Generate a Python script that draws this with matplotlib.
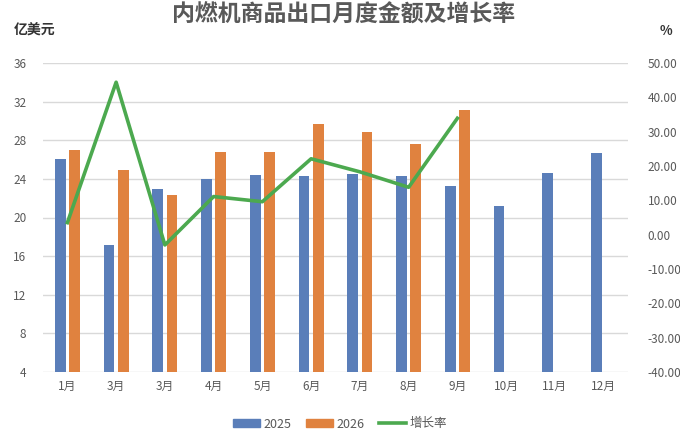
import numpy as np
import matplotlib
matplotlib.use("Agg")
import matplotlib.pyplot as plt
from matplotlib.patches import Patch
from matplotlib.lines import Line2D

plt.rcParams['font.family'] = ['Noto Sans CJK SC', 'DejaVu Sans']

# Data
months = ["1月", "3月", "3月", "4月", "5月", "6月", "7月", "8月", "9月", "10月", "11月", "12月"]
val_2025 = [26.1, 17.2, 23.0, 24.0, 24.4, 24.3, 24.5, 24.3, 23.3, 21.2, 24.6, 26.7]
val_2026 = [27.0, 24.9, 22.3, 26.8, 26.8, 29.7, 28.9, 27.6, 31.1]
growth = [3.5, 44.4, -3.0, 11.1, 9.6, 22.1, 18.3, 13.8, 33.9]

blue = "#5A7EB9"
orange = "#E0823F"
green = "#4CA94F"
text_c = "#595959"

fig = plt.figure(figsize=(6.8, 4.34), dpi=100)
ax = fig.add_axes([43 / 680, 1 - 372 / 434, 585 / 680, 309 / 434])
ax2 = ax.twinx()

x = np.arange(len(months))
off = 0.148
w = 0.22
ax.bar(x - off, val_2025, width=w, color=blue, zorder=3)
ax.bar(x[:len(val_2026)] + off, val_2026, width=w, color=orange, zorder=3)
ax2.plot(x[:len(growth)], growth, color=green, lw=2.6, zorder=4)

ax.set_ylim(4, 36)
ax.set_yticks(range(4, 37, 4))
ax.set_xlim(-0.5, len(months) - 0.5)
ax.set_xticks(x)
ax.set_xticklabels(months)
ax2.set_ylim(-40, 50)
ax2.set_yticks(range(-40, 51, 10))
ax2.set_yticklabels([f"{v:.2f}" for v in range(-40, 51, 10)])

ax.grid(axis="y", color="#D9D9D9", lw=1, zorder=0)
ax.set_axisbelow(True)
for a in (ax, ax2):
    for s in a.spines.values():
        s.set_visible(False)
    a.tick_params(length=0, colors=text_c, labelsize=8.5)
ax.tick_params(axis="y", pad=12)
ax.tick_params(axis="x", pad=6)
ax2.tick_params(axis="y", pad=14)

fig.text(0.505, 1 - 15 / 434, "内燃机商品出口月度金额及增长率", ha="center", va="center",
         fontsize=16.5, color=text_c, fontweight="bold")
fig.text(14 / 680, 1 - 31 / 434, "亿美元", ha="left", va="center", fontsize=10,
         color="#333333", fontweight="bold")
fig.text(666 / 680, 1 - 31 / 434, "%", ha="center", va="center", fontsize=9.5,
         color="#333333", fontweight="bold")

handles = [Patch(color=blue), Patch(color=orange), Line2D([], [], color=green, lw=2.6)]
fig.legend(handles, ["2025", "2026", "增长率"], loc="center", ncol=3,
           bbox_to_anchor=(0.5, 1 - 424 / 434), frameon=False, fontsize=9,
           labelcolor=text_c, handlelength=2.2, handleheight=0.55, columnspacing=1.1,
           handletextpad=0.3)

fig.savefig("out.png", dpi=100)
